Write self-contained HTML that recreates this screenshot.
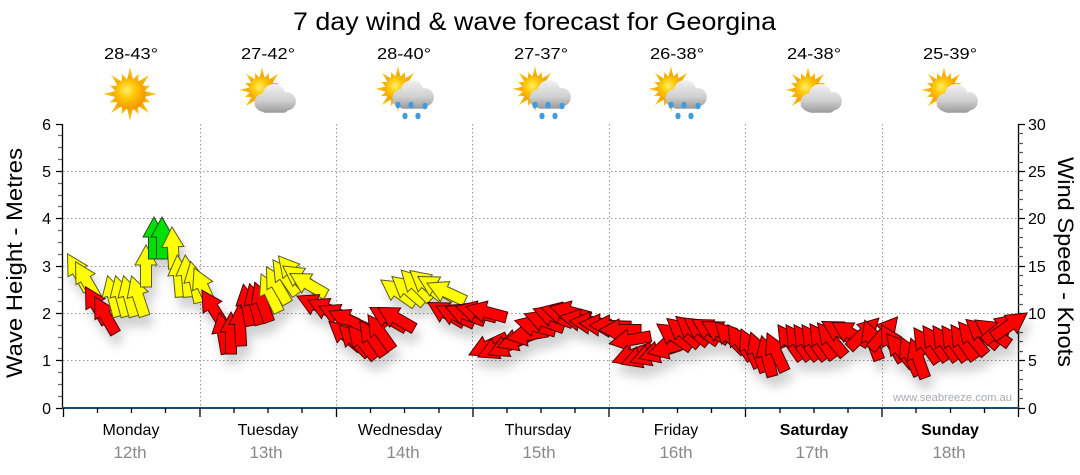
<!DOCTYPE html>
<html><head><meta charset="utf-8"><style>
html,body{margin:0;padding:0;background:#fff;}
svg{display:block;}
text{font-family:"Liberation Sans","DejaVu Sans",sans-serif;}
</style></head><body>
<svg id="chart" width="1080" height="475" viewBox="0 0 1080 475" xmlns="http://www.w3.org/2000/svg">
<defs>
  <radialGradient id="sunG" cx="40%" cy="38%" r="65%">
    <stop offset="0" stop-color="#fff06a"/>
    <stop offset="0.45" stop-color="#ffc400"/>
    <stop offset="1" stop-color="#f39200"/>
  </radialGradient>
  <linearGradient id="rayG" x1="0" y1="0" x2="0" y2="1">
    <stop offset="0" stop-color="#ffd21a"/>
    <stop offset="1" stop-color="#f0a000"/>
  </linearGradient>
  <linearGradient id="cloudG" x1="0" y1="-14" x2="0" y2="12" gradientUnits="userSpaceOnUse">
    <stop offset="0" stop-color="#f4f4f4"/>
    <stop offset="0.6" stop-color="#cfcfcf"/>
    <stop offset="1" stop-color="#9a9a9a"/>
  </linearGradient>
  <g id="rays"></g>
  <g id="sun">
    <use href="#rays"/>
    <circle r="15.5" fill="url(#sunG)"/>
  </g>
  <g id="cloud">
    <circle cx="-9" cy="3" r="8" fill="url(#cloudG)"/>
    <circle cx="0" cy="-3" r="10" fill="url(#cloudG)"/>
    <circle cx="11" cy="2" r="8" fill="url(#cloudG)"/>
    <rect x="-12" y="2" width="25" height="10" rx="5" fill="url(#cloudG)"/>
  </g>
  <g id="drops" fill="#3f9be0">
    <ellipse cx="-14" cy="9" rx="2.6" ry="3.3"/>
    <ellipse cx="-1" cy="9" rx="2.6" ry="3.3"/>
    <ellipse cx="13" cy="10" rx="2.6" ry="3.3"/>
    <ellipse cx="-7" cy="20" rx="2.6" ry="3.3"/>
    <ellipse cx="6" cy="20" rx="2.6" ry="3.3"/>
  </g>
  <path id="aR" d="M0,-21 L11,-1 L5.5,-1 L5.5,21 L-5.5,21 L-5.5,-1 L-11,-1 Z" fill="#ff0000" stroke="#4a0000" stroke-width="1"/>
  <path id="aY" d="M0,-21 L11,-1 L5.5,-1 L5.5,21 L-5.5,21 L-5.5,-1 L-11,-1 Z" fill="#ffff00" stroke="#5a5a20" stroke-width="1"/>
  <path id="aG" d="M0,-21 L11,-1 L5.5,-1 L5.5,21 L-5.5,21 L-5.5,-1 L-11,-1 Z" fill="#00e000" stroke="#2a4a2a" stroke-width="1"/>
  <filter id="shd" x="-10%" y="-20%" width="120%" height="160%">
    <feDropShadow dx="4" dy="10" stdDeviation="5" flood-color="#000" flood-opacity="0.18"/>
  </filter>
</defs>

<rect width="1080" height="475" fill="#fff"/>

<text x="293" y="30" font-size="25" textLength="483" lengthAdjust="spacingAndGlyphs" fill="#000">7 day wind &amp; wave forecast for Georgina</text>

<g font-size="16" fill="#000" text-anchor="middle">
  <text x="131" y="59" textLength="54" lengthAdjust="spacingAndGlyphs">28-43°</text>
  <text x="268" y="59" textLength="54" lengthAdjust="spacingAndGlyphs">27-42°</text>
  <text x="404" y="59" textLength="54" lengthAdjust="spacingAndGlyphs">28-40°</text>
  <text x="541" y="59" textLength="54" lengthAdjust="spacingAndGlyphs">27-37°</text>
  <text x="677" y="59" textLength="54" lengthAdjust="spacingAndGlyphs">26-38°</text>
  <text x="814" y="59" textLength="54" lengthAdjust="spacingAndGlyphs">24-38°</text>
  <text x="950" y="59" textLength="54" lengthAdjust="spacingAndGlyphs">25-39°</text>
</g>

<use href="#sun" transform="translate(130,94)"/>
<g transform="translate(262,90) scale(0.85)"><use href="#sun"/></g>
<g transform="translate(274,99) scale(1.15)"><use href="#cloud"/></g>
<g transform="translate(398,89) scale(0.85)"><use href="#sun"/></g>
<g transform="translate(412,95) scale(1.15)"><use href="#cloud"/></g>
<use href="#drops" transform="translate(412,96)"/>
<g transform="translate(535,89) scale(0.85)"><use href="#sun"/></g>
<g transform="translate(549,95) scale(1.15)"><use href="#cloud"/></g>
<use href="#drops" transform="translate(549,96)"/>
<g transform="translate(671,89) scale(0.85)"><use href="#sun"/></g>
<g transform="translate(685,95) scale(1.15)"><use href="#cloud"/></g>
<use href="#drops" transform="translate(685,96)"/>
<g transform="translate(808,90) scale(0.85)"><use href="#sun"/></g>
<g transform="translate(820,99) scale(1.15)"><use href="#cloud"/></g>
<g transform="translate(944,90) scale(0.85)"><use href="#sun"/></g>
<g transform="translate(956,99) scale(1.15)"><use href="#cloud"/></g>

<g stroke="#999" stroke-width="1" stroke-dasharray="1.5,2.5" fill="none">
  <path d="M63,360.5H1018M63,313.5H1018M63,266.5H1018M63,218.5H1018M63,171.5H1018"/>
  <path d="M200.5,124V408M336.5,124V408M472.5,124V408M609.5,124V408M745.5,124V408M882.5,124V408"/>
</g>

<path d="M62.5,124V409" stroke="#000" stroke-width="1.3"/>
<path d="M56,408.5H62M56,360.5H62M56,313.5H62M56,266.5H62M56,218.5H62M56,171.5H62M56,124.5H62" stroke="#000" stroke-width="1.3"/>
<path d="M58,396.5H62M58,384.5H62M58,372.5H62M58,348.5H62M58,337.5H62M58,325.5H62M58,301.5H62M58,289.5H62M58,277.5H62M58,254.5H62M58,242.5H62M58,230.5H62M58,206.5H62M58,195.5H62M58,183.5H62M58,159.5H62M58,147.5H62M58,135.5H62" stroke="#666" stroke-width="1.3"/>
<g font-size="16" fill="#000" text-anchor="end">
  <text x="51" y="414">0</text>
  <text x="51" y="366">1</text>
  <text x="51" y="319">2</text>
  <text x="51" y="272">3</text>
  <text x="51" y="224">4</text>
  <text x="51" y="177">5</text>
  <text x="51" y="130">6</text>
</g>
<text transform="translate(22,263) rotate(-90)" font-size="22" text-anchor="middle" textLength="230" lengthAdjust="spacingAndGlyphs" fill="#000">Wave Height - Metres</text>

<path d="M1018.5,124V409" stroke="#000" stroke-width="1.3"/>
<path d="M1018,408.5H1025M1018,360.5H1025M1018,313.5H1025M1018,266.5H1025M1018,218.5H1025M1018,171.5H1025M1018,124.5H1025" stroke="#000" stroke-width="1.3"/>
<path d="M1018,398.5H1023M1018,389.5H1023M1018,379.5H1023M1018,370.5H1023M1018,351.5H1023M1018,341.5H1023M1018,332.5H1023M1018,322.5H1023M1018,304.5H1023M1018,294.5H1023M1018,285.5H1023M1018,275.5H1023M1018,256.5H1023M1018,247.5H1023M1018,237.5H1023M1018,228.5H1023M1018,209.5H1023M1018,199.5H1023M1018,190.5H1023M1018,180.5H1023M1018,162.5H1023M1018,152.5H1023M1018,143.5H1023M1018,133.5H1023" stroke="#555" stroke-width="1.3"/>
<g font-size="16" fill="#000">
  <text x="1028" y="414">0</text>
  <text x="1028" y="366">5</text>
  <text x="1028" y="319">10</text>
  <text x="1028" y="272">15</text>
  <text x="1028" y="224">20</text>
  <text x="1028" y="177">25</text>
  <text x="1028" y="130">30</text>
</g>
<text transform="translate(1058,262) rotate(90)" font-size="22" text-anchor="middle" textLength="210" lengthAdjust="spacingAndGlyphs" fill="#000">Wind Speed - Knots</text>

<text x="893" y="401" font-size="11" fill="#a8abb3" textLength="119" lengthAdjust="spacingAndGlyphs">www.seabreeze.com.au</text>

<g id="arrows" filter="url(#shd)"></g>

<path d="M62,408H1019" stroke="#154f78" stroke-width="2"/>
<path d="M63.5,408V417M200,408V417M336.5,408V417M473,408V417M609,408V417M745.5,408V417M882,408V417M1018.5,408V417" stroke="#000" stroke-width="1.3"/>
<path d="M97.5,408V413M131.5,408V413M165.5,408V413M234,408V413M268,408V413M302,408V413M370.5,408V413M404.5,408V413M439,408V413M507,408V413M541,408V413M575,408V413M643,408V413M677.5,408V413M711.5,408V413M780,408V413M814,408V413M848,408V413M916,408V413M950.5,408V413M984.5,408V413" stroke="#000" stroke-width="1.3"/>

<g font-size="16" fill="#000" text-anchor="middle">
  <text x="131" y="435">Monday</text>
  <text x="268" y="435">Tuesday</text>
  <text x="400" y="435">Wednesday</text>
  <text x="538" y="435">Thursday</text>
  <text x="676" y="435">Friday</text>
  <text x="814" y="435" font-weight="bold">Saturday</text>
  <text x="950" y="435" font-weight="bold">Sunday</text>
</g>
<g font-size="17" fill="#888" text-anchor="middle">
  <text x="130" y="458">12th</text>
  <text x="266" y="458">13th</text>
  <text x="403" y="458">14th</text>
  <text x="539" y="458">15th</text>
  <text x="676" y="458">16th</text>
  <text x="812" y="458">17th</text>
  <text x="949" y="458">18th</text>
</g>
</svg>
<script>
(function(){
  var NS="http://www.w3.org/2000/svg";
  var rays=document.getElementById("rays");
  for(var i=0;i<16;i++){
    var p=document.createElementNS(NS,"polygon");
    p.setAttribute("points", i%2? "-3,-14 0,-22 3,-14" : "-3,-14 0,-27 3,-14");
    p.setAttribute("fill","url(#rayG)");
    p.setAttribute("transform","rotate("+(i*22.5)+")");
    rays.appendChild(p);
  }
  var d="Y78,272,-30 Y86,280,-30 R96,305,-30 R105,315,-30 Y113,296,-15 Y121,296,-15 Y129,296,-15 Y138,296,-18 "+
  "Y146,266,0 G154,238,0 G162,238,0 Y173,248,-3 Y179,276,-5 Y187,276,-5 Y195,282,-12 Y203,287,-25 "+
  "R213,308,-32 R223,333,-10 R231,333,0 R240,325,-3 R247,305,-10 R255,304,-15 R262,302,-20 "+
  "Y270,293,-25 Y277,285,-30 Y285,277,-35 Y292,272,-40 Y300,278,-55 Y308,284,-60 "+
  "R316,305,-65 R327,309,-65 R338,315,-65 R348,320,-65 R345,335,-50 R354,340,-45 R362,342,-40 R372,338,-35 R380,332,-35 R388,318,-60 R396,318,-60 "+
  "Y398,292,-55 Y408,290,-50 Y416,285,-45 Y426,284,-50 Y436,287,-60 Y446,292,-65 "+
  "R446,313,-60 R455,315,-65 R465,314,-70 R476,312,-75 R486,312,-75 R488,346,-115 R497,348,-115 R507,346,-115 R517,340,-110 R527,335,-100 "+
  "R535,326,-75 R544,321,-70 R553,316,-70 R561,313,-75 R570,312,-75 R580,320,-80 R590,323,-85 R600,325,-85 R610,326,-88 R620,330,-90 R630,340,-100 "+
  "R632,355,-110 R641,357,-110 R650,355,-110 R659,352,-108 R668,348,-105 R674,336,-55 R683,332,-50 R692,330,-50 R701,330,-55 R710,330,-60 R720,332,-60 "+
  "R730,337,-45 R740,342,-35 R750,348,-25 R758,352,-20 R767,356,-15 R776,352,-25 R790,342,-35 R798,342,-35 R806,342,-35 R814,342,-35 R822,341,-35 R831,339,-40 "+
  "R840,332,-60 R850,333,-60 R864,333,45 R872,340,-20 R884,333,40 R892,343,-30 R900,350,-40 R910,356,-25 R918,358,-20 "+
  "R926,345,-35 R935,343,-35 R945,343,-35 R954,343,-35 R963,342,-35 R972,338,-40 R982,333,-50 R992,332,-55 R1000,328,50 R1010,325,55";
  var g=document.getElementById("arrows");
  d.split(" ").forEach(function(s){
    var c=s.charAt(0), v=s.substring(1).split(",");
    var u=document.createElementNS(NS,"use");
    u.setAttribute("href","#a"+c);
    u.setAttribute("transform","translate("+v[0]+","+v[1]+") rotate("+v[2]+")");
    g.appendChild(u);
  });
})();
</script>
</body></html>
